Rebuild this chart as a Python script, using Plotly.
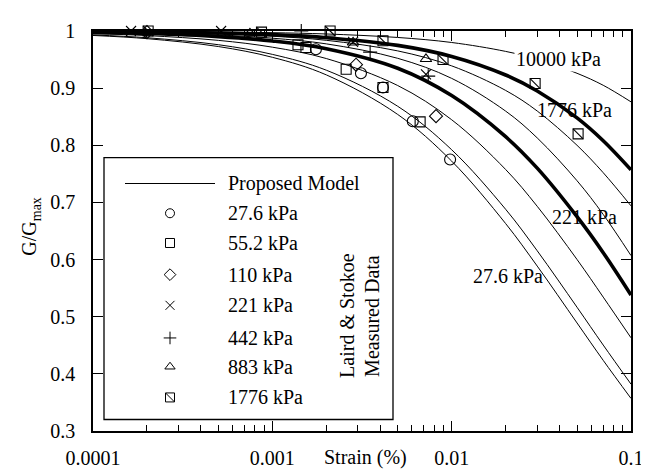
import plotly.graph_objects as go

# ---------------- data ----------------
strain_grid = [1e-4, 2e-4, 5e-4, 1e-3, 2e-3, 5e-3, 1e-2, 2e-2, 3e-2, 5e-2, 7e-2, 1e-1]

model_27_6 = [0.9922, 0.9866, 0.9728, 0.9540, 0.9232, 0.8540, 0.7723, 0.6630, 0.5886, 0.4891, 0.4236, 0.3570]
model_55_2 = [0.9931, 0.9882, 0.9760, 0.9591, 0.9314, 0.8683, 0.7922, 0.6880, 0.6154, 0.5166, 0.4504, 0.3820]
model_110 = [0.9954, 0.9920, 0.9836, 0.9717, 0.9518, 0.9046, 0.8447, 0.7576, 0.6932, 0.6002, 0.5343, 0.4631]
model_221 = [0.9975, 0.9955, 0.9902, 0.9826, 0.9690, 0.9348, 0.8870, 0.8150, 0.7600, 0.6750, 0.6120, 0.538]
model_442 = [0.9982, 0.9968, 0.9930, 0.9874, 0.9775, 0.9522, 0.9171, 0.8598, 0.8129, 0.7380, 0.6790, 0.607]
model_883 = [0.9987, 0.9977, 0.9949, 0.9909, 0.9837, 0.9652, 0.9390, 0.8960, 0.8600, 0.8000, 0.7520, 0.694]
model_1776 = [0.9991, 0.9983, 0.9964, 0.9935, 0.9883, 0.9748, 0.9555, 0.9230, 0.8950, 0.8480, 0.8080, 0.757]
model_10000 = [0.9996, 0.9993, 0.9984, 0.9971, 0.9948, 0.9887, 0.9799, 0.9643, 0.9505, 0.9260, 0.9050, 0.876]

curve_names = ["27.6 kPa", "55.2 kPa", "110 kPa", "221 kPa", "442 kPa", "883 kPa", "1776 kPa", "10000 kPa"]

# Laird & Stokoe measured data
d27_x = [0.00175, 0.00312, 0.00414, 0.00607, 0.0098]
d27_y = [0.968, 0.926, 0.901, 0.842, 0.775]
d55_x = [0.00139, 0.00154, 0.00258, 0.00414, 0.00667]
d55_y = [0.976, 0.971, 0.933, 0.901, 0.841]
d110_x = [0.0002, 0.00293, 0.00818]
d110_y = [0.998, 0.941, 0.851]
d221_x = [0.000163, 0.000518, 0.00282, 0.00719]
d221_y = [1.0, 1.0, 0.981, 0.924]
d442_x = [0.00145, 0.00351, 0.0074]
d442_y = [1.0, 0.963, 0.921]
d883_x = [0.00075, 0.00282, 0.00719]
d883_y = [0.996, 0.980, 0.951]
d1776_x = [0.000203, 0.00087, 0.0021, 0.00414, 0.00895, 0.0292, 0.0507]
d1776_y = [1.0, 0.998, 1.0, 0.983, 0.950, 0.908, 0.820]

legend_labels = ["27.6 kPa", "55.2 kPa", "110 kPa", "221 kPa", "442 kPa", "883 kPa", "1776 kPa"]

x_tick_vals = [1e-4, 1e-3, 1e-2, 1e-1]
x_tick_text = ["0.0001", "0.001", "0.01", "0.1"]
y_tick_vals = [0.3, 0.4, 0.5, 0.6, 0.7, 0.8, 0.9, 1.0]
y_tick_text = ["0.3", "0.4", "0.5", "0.6", "0.7", "0.8", "0.9", "1"]

# ---------------- figure ----------------
W, H = 649, 473
L, R, T, B = 85, 26, 13, 43
pw, ph = W - L - R, H - T - B

def px_x(px):
    return (px - L) / pw

def px_y(py):
    return (H - B - py) / ph

FONT = "Liberation Serif"
fig = go.Figure()

models = [model_27_6, model_55_2, model_110, model_221, model_442, model_883, model_1776, model_10000]
thick = {"221 kPa", "1776 kPa"}
for name, ys in zip(curve_names, models):
    fig.add_trace(go.Scatter(
        x=strain_grid, y=ys, mode="lines", name=name, showlegend=False,
        line=dict(color="black", width=3.6 if name in thick else 1.0, shape="spline", smoothing=1.0),
        hoverinfo="skip"))

MS = 10
marker_sets = [
    (d27_x, d27_y, "circle-open"),
    (d55_x, d55_y, "square-open"),
    (d110_x, d110_y, "diamond-open"),
    (d221_x, d221_y, "x-thin-open"),
    (d442_x, d442_y, "cross-thin-open"),
    (d883_x, d883_y, "triangle-up-open"),
    (d1776_x, d1776_y, "square-open"),
]
for (xs, ys, sym) in marker_sets:
    fig.add_trace(go.Scatter(x=xs, y=ys, mode="markers", showlegend=False, cliponaxis=False,
                             marker=dict(symbol=sym, size=MS + (1 if sym == "circle-open" else 0), color="black",
                                         line=dict(color="black", width=1.1))))
# diagonal inside the 1776 kPa squares
fig.add_trace(go.Scatter(x=d1776_x, y=d1776_y, mode="markers", showlegend=False, cliponaxis=False,
                         marker=dict(symbol="line-nw", size=MS, color="black",
                                     line=dict(color="black", width=1.1))))

# ---------------- legend (drawn in an overlay axis) ----------------
legend_row_py = [203, 234, 267, 299, 333, 363, 395]
legend_marker_px = 162
legend_text_px = 218
legend_syms = ["circle-open", "square-open", "diamond-open", "x-thin-open", "cross-thin-open", "triangle-up-open", "square-open"]
for py, sym in zip(legend_row_py, legend_syms):
    fig.add_trace(go.Scatter(x=[px_x(legend_marker_px)], y=[px_y(py)], xaxis="x2", yaxis="y2",
                             mode="markers", showlegend=False,
                             marker=dict(symbol=sym, size=9, color="black", line=dict(color="black", width=1))))
fig.add_trace(go.Scatter(x=[px_x(legend_marker_px)], y=[px_y(legend_row_py[-1])], xaxis="x2", yaxis="y2",
                         mode="markers", showlegend=False,
                         marker=dict(symbol="line-nw", size=9, color="black", line=dict(color="black", width=1))))

shapes = [
    dict(type="rect", xref="paper", yref="paper", x0=px_x(96), x1=px_x(385), y0=px_y(418), y1=px_y(145),
         line=dict(color="black", width=1.3), layer="above"),
    dict(type="line", xref="paper", yref="paper", x0=px_x(117), x1=px_x(207), y0=px_y(172), y1=px_y(172),
         line=dict(color="black", width=1.2)),
]

annotations = []
tf = dict(family=FONT, size=20, color="black")
annotations.append(dict(xref="paper", yref="paper", x=px_x(legend_text_px), y=px_y(172), text="Proposed Model",
                        showarrow=False, xanchor="left", yanchor="middle", font=tf))
for py, lab in zip(legend_row_py, legend_labels):
    annotations.append(dict(xref="paper", yref="paper", x=px_x(legend_text_px), y=px_y(py), text=lab,
                            showarrow=False, xanchor="left", yanchor="middle", font=tf))
annotations.append(dict(xref="paper", yref="paper", x=px_x(339), y=px_y(310), text="Laird &amp; Stokoe",
                        showarrow=False, textangle=-90, xanchor="center", yanchor="middle", font=tf))
annotations.append(dict(xref="paper", yref="paper", x=px_x(364), y=px_y(310), text="Measured Data",
                        showarrow=False, textangle=-90, xanchor="center", yanchor="middle", font=tf))

# curve labels
annotations.append(dict(xref="paper", yref="paper", x=px_x(550), y=px_y(42), text="10000 kPa",
                        showarrow=False, xanchor="center", yanchor="middle", font=tf, bgcolor="white"))
annotations.append(dict(xref="paper", yref="paper", x=px_x(566), y=px_y(95), text="1776 kPa",
                        showarrow=False, xanchor="center", yanchor="middle", font=tf))
annotations.append(dict(xref="paper", yref="paper", x=px_x(576), y=px_y(207), text="221 kPa",
                        showarrow=False, xanchor="center", yanchor="middle", font=tf))
annotations.append(dict(xref="paper", yref="paper", x=px_x(500), y=px_y(268), text="27.6 kPa",
                        showarrow=False, xanchor="center", yanchor="middle", font=tf))

# axis titles
annotations.append(dict(xref="paper", yref="paper", x=px_x(23), y=px_y(217), text="G/G<sub>max</sub>",
                        showarrow=False, textangle=-90, xanchor="center", yanchor="middle", font=tf))
annotations.append(dict(xref="paper", yref="paper", x=px_x(357), y=px_y(458), text="Strain (%)",
                        showarrow=False, xanchor="center", yanchor="middle", font=tf))

minor_vals = [m * 10 ** e for e in (-4, -3, -2) for m in range(2, 10)]

fig.update_layout(
    width=W, height=H,
    margin=dict(l=L, r=R, t=T, b=B),
    paper_bgcolor="white", plot_bgcolor="white",
    showlegend=False,
    font=dict(family=FONT, size=20, color="black"),
    xaxis=dict(type="log", range=[-4, -1], tickvals=x_tick_vals, ticktext=x_tick_text,
               ticks="inside", ticklen=10, tickwidth=1, tickcolor="black",
               showline=True, linecolor="black", linewidth=1.5, mirror="ticks",
               showgrid=False, zeroline=False, ticklabelstandoff=8,
               tickfont=dict(family=FONT, size=20, color="black"),
               minor=dict(tickvals=minor_vals, ticks="inside", ticklen=6, tickcolor="black", tickwidth=1, showgrid=False)),
    yaxis=dict(range=[0.3, 1.0], tickvals=y_tick_vals, ticktext=y_tick_text,
               ticks="inside", ticklen=10, tickwidth=1, tickcolor="black",
               showline=True, linecolor="black", linewidth=1.5, mirror="ticks",
               showgrid=False, zeroline=False, ticklabelstandoff=12,
               tickfont=dict(family=FONT, size=20, color="black")),
    xaxis2=dict(overlaying="x", range=[0, 1], visible=False, fixedrange=True),
    yaxis2=dict(overlaying="y", range=[0, 1], visible=False, fixedrange=True),
    shapes=shapes,
    annotations=annotations,
)

fig.write_html("out.html")
